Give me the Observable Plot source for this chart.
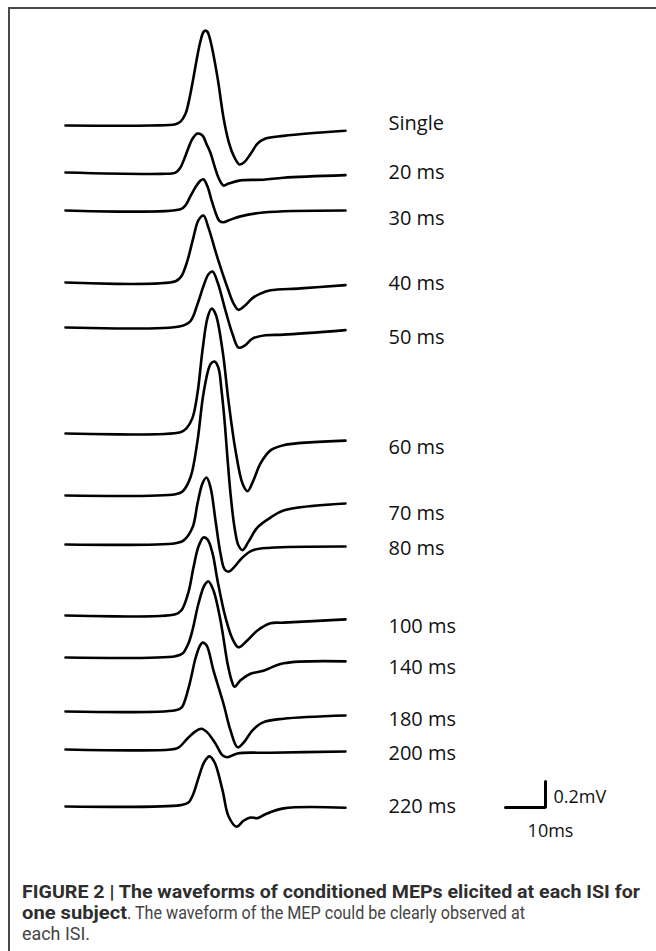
<!DOCTYPE html>
<html>
<head>
<meta charset="utf-8">
<script src="https://cdn.jsdelivr.net/npm/d3@7"></script>
<script src="https://cdn.jsdelivr.net/npm/@observablehq/plot@0.6"></script>
<style>
html, body { margin: 0; padding: 0; background: #fff; }
#fig { position: relative; width: 656px; height: 951px; overflow: hidden; }
#frame { position: absolute; left: 8px; top: 7px; width: 700px; height: 1000px;
  border-left: 2px solid #4a4a4a; border-top: 2px solid #4a4a4a; }
#chart { position: absolute; left: 0; top: 0; }
#caption { position: absolute; left: 0; top: 870px; }
#caption text { font-family: Roboto, "Liberation Sans", sans-serif; font-size: 18px; }
</style>
</head>
<body>
<div id="fig">
  <div id="frame"></div>
  <div id="chart"></div>
  <svg id="caption" width="656" height="81">
    <text x="22" y="28" textLength="618" lengthAdjust="spacingAndGlyphs" font-weight="700" fill="#2e2e2e">FIGURE 2 | The waveforms of conditioned MEPs elicited at each ISI for</text>
    <text x="22" y="49" textLength="105" lengthAdjust="spacingAndGlyphs" font-weight="700" fill="#2e2e2e">one subject</text>
    <text x="127" y="49" textLength="398" lengthAdjust="spacingAndGlyphs" fill="#444">. The waveform of the MEP could be clearly observed at</text>
    <text x="22" y="70" textLength="68" lengthAdjust="spacingAndGlyphs" fill="#444">each ISI.</text>
  </svg>
</div>
<script>
// ISI conditions (labels shown at the right of each trace)
const isiLabels = ["Single", "20 ms", "30 ms", "40 ms", "50 ms", "60 ms", "70 ms", "80 ms",
  "100 ms", "140 ms", "180 ms", "200 ms", "220 ms"];

// vertical stacking offset of each trace's baseline (mV)
const baselineMv = [0, -0.362, -0.654, -1.208, -1.554, -2.369, -2.846, -3.223, -3.769, -4.092, -4.508, -4.8, -5.238];
// vertical value at which each label sits (mV)
const labelMv = [0.015, -0.362, -0.715, -1.215, -1.631, -2.477, -2.985, -3.254, -3.854, -4.169, -4.569, -4.831, -5.238];

// waveforms: [time (ms), amplitude (mV)] relative to own baseline
const single = [[0,0],[21.25,0],[27.5,0.01],[28.75,0.03],[30,0.09],[31,0.21],[32,0.37],[33,0.54],[33.75,0.65],[34.5,0.72],[35,0.73],[35.5,0.72],[36.25,0.65],[38,0.37],[39.5,0.06],[40.75,-0.12],[42,-0.23],[43.5,-0.3],[44.75,-0.28],[46.25,-0.22],[48,-0.14],[50,-0.1],[54.5,-0.08],[61.25,-0.06],[70,-0.04]];
const isi20 = [[0,0],[23.75,-0.01],[27.5,0],[28.75,0.04],[30,0.13],[31.75,0.26],[33,0.3],[34.25,0.285],[35.25,0.22],[36.25,0.15],[37.25,0.05],[38.25,-0.04],[39.5,-0.1],[40.75,-0.085],[43.75,-0.06],[49.5,-0.055],[54.5,-0.04],[70,-0.02]];
const isi30 = [[0,0],[28.75,0.01],[30,0.04],[31.25,0.11],[32.5,0.18],[33.75,0.23],[34.5,0.24],[35.5,0.185],[36.5,0.08],[37.5,-0.015],[38.5,-0.08],[39.5,-0.09],[41.25,-0.07],[43.75,-0.045],[49.5,-0.015],[70,0]];
const isi40 = [[0,0],[27.5,0.01],[29,0.05],[30.5,0.17],[32,0.35],[33.25,0.48],[34.5,0.515],[35.75,0.42],[38,0.19],[40.5,-0.04],[42,-0.16],[43.25,-0.21],[44.75,-0.18],[46.75,-0.12],[48.75,-0.085],[51.25,-0.06],[58.75,-0.045],[70,-0.02]];
const isi50 = [[0,0],[28.75,0.01],[31.25,0.05],[33,0.18],[34.5,0.32],[35.75,0.41],[36.75,0.43],[38,0.35],[40,0.13],[41.75,-0.05],[43.25,-0.155],[44.75,-0.14],[46.75,-0.085],[50,-0.06],[54.5,-0.055],[70,-0.02]];
const isi60 = [[0,0],[28.75,0.01],[30.25,0.04],[31.75,0.12],[33,0.31],[34.25,0.64],[35.5,0.89],[36.5,0.96],[37.5,0.92],[39.25,0.64],[40.75,0.25],[42.5,-0.13],[44.25,-0.385],[45.5,-0.445],[47,-0.36],[48.75,-0.23],[51.25,-0.13],[54.5,-0.09],[70,-0.055]];
const isi70 = [[0,0],[27.5,0.01],[29.25,0.03],[31.25,0.14],[33,0.42],[34.5,0.785],[36.25,1.01],[37.25,1.03],[38.25,0.98],[39,0.81],[39.75,0.58],[40.5,0.285],[41.25,0.015],[42.25,-0.245],[43.25,-0.385],[44.25,-0.42],[45.75,-0.355],[48,-0.245],[51.25,-0.17],[54.5,-0.115],[70,-0.062]];
const isi80 = [[0,0],[27.5,0.01],[29.5,0.03],[31.75,0.13],[33,0.315],[34.25,0.47],[35.25,0.515],[36.25,0.44],[37.5,0.185],[38.75,-0.07],[39.75,-0.19],[40.75,-0.21],[42,-0.18],[44.25,-0.1],[46.75,-0.045],[51.25,-0.025],[70,-0.015]];
const isi100 = [[0,0],[27.5,0.01],[29,0.04],[30.75,0.18],[32,0.37],[33.25,0.53],[34.5,0.6],[35.5,0.585],[36.75,0.48],[38,0.27],[40,-0.015],[41.75,-0.18],[43.25,-0.245],[45.5,-0.19],[48,-0.115],[51.25,-0.06],[54.5,-0.055],[70,-0.03]];
const isi140 = [[0,0],[27.5,0.01],[29.25,0.03],[30.75,0.11],[31.75,0.21],[33.25,0.415],[34.75,0.555],[35.75,0.585],[37,0.515],[38.75,0.285],[40.5,-0.045],[41.5,-0.175],[42.25,-0.225],[43.75,-0.175],[46.25,-0.125],[49.25,-0.105],[54.5,-0.045],[70,-0.03]];
const isi180 = [[0,0],[27.5,0.01],[29,0.03],[30.75,0.18],[32.5,0.41],[33.5,0.5],[34.25,0.53],[35.25,0.51],[37,0.315],[39.5,0.06],[41.25,-0.145],[43,-0.275],[44.5,-0.24],[46.75,-0.145],[49.25,-0.085],[54.5,-0.055],[70,-0.03]];
const isi200 = [[0,0],[26.25,0],[28.25,0.015],[30.5,0.085],[32.5,0.14],[34,0.16],[35.5,0.13],[37.5,0.045],[39.25,-0.045],[40.5,-0.06],[43,-0.03],[51.25,-0.025],[70,-0.015]];
const isi220 = [[0,0],[28.75,0.01],[30.75,0.03],[32,0.1],[33.25,0.22],[34.75,0.345],[36,0.385],[37.25,0.34],[39.25,0.125],[40.75,-0.075],[42.75,-0.155],[44.5,-0.11],[46.25,-0.085],[48,-0.09],[50,-0.06],[54.5,-0.015],[70,-0.01]];

// scale bar values
const scaleBarMs = 10;
const scaleBarMv = 0.2;
const scaleBarLabels = ["0.2mV", "10ms"];

// ---------- build tables ----------
const waveforms = [single, isi20, isi30, isi40, isi50, isi60, isi70, isi80, isi100, isi140, isi180, isi200, isi220];
const rows = [];
waveforms.forEach((w, i) => {
  w.forEach(([t, v]) => rows.push({label: isiLabels[i], t, v: v + baselineMv[i]}));
});
const labelRows = isiLabels.map((label, i) => ({label, t: 80.75, v: labelMv[i]}));

const barT = 120, barV = -5.246;
const scaleBar = [
  {t: barT - scaleBarMs, v: barV},
  {t: barT, v: barV},
  {t: barT, v: barV + scaleBarMv}
];
const scaleText = [
  {text: scaleBarLabels[0], t: barT + 2, v: barV + 0.077, anchor: "start"},
  {text: scaleBarLabels[1], t: barT + 1.25, v: barV - 0.185, anchor: "middle"}
];

const chart = Plot.plot({
  width: 656,
  height: 860,
  marginLeft: 65,
  marginRight: 11,
  marginTop: 0,
  marginBottom: 0,
  x: {domain: [0, 145], axis: null},
  y: {domain: [-5.6538, 0.9615], axis: null},
  style: {background: "transparent", overflow: "visible"},
  marks: [
    Plot.line(rows, {x: "t", y: "v", z: "label", stroke: "#000", strokeWidth: 2.6,
      curve: "catmull-rom", strokeLinejoin: "round", strokeLinecap: "round"}),
    Plot.text(labelRows, {x: "t", y: "v", text: "label", textAnchor: "start",
      fontSize: 20, fontFamily: "Open Sans", fill: "#111"}),
    Plot.line(scaleBar, {x: "t", y: "v", stroke: "#000", strokeWidth: 3, strokeLinejoin: "miter"}),
    Plot.text(scaleText.filter(d => d.anchor === "start"), {x: "t", y: "v", text: "text", textAnchor: "start",
      fontSize: 18, fontFamily: "Open Sans", fill: "#111"}),
    Plot.text(scaleText.filter(d => d.anchor === "middle"), {x: "t", y: "v", text: "text", textAnchor: "middle",
      fontSize: 18, fontFamily: "Open Sans", fill: "#111"})
  ]
});
document.getElementById("chart").appendChild(chart);
</script>
</body>
</html>
